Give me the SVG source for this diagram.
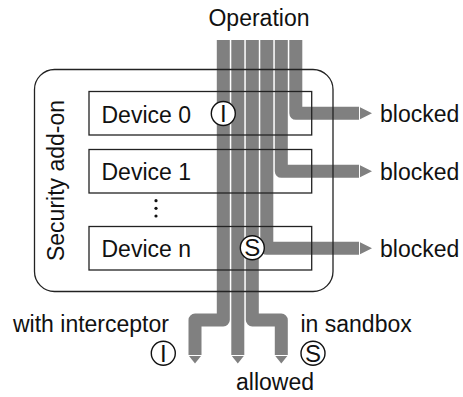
<svg xmlns="http://www.w3.org/2000/svg" width="463" height="397" viewBox="0 0 463 397">
<style>
text{font-family:"Liberation Sans",Arial,sans-serif;font-size:23px;fill:#111}
.band{fill:none;stroke:#808080;stroke-width:13;stroke-linejoin:round}
.head{fill:#808080}
.box{fill:none;stroke:#222;stroke-width:1.3}
.mark{fill:#fff;stroke:#111;stroke-width:1.4}
.ml{font-size:24px;text-anchor:middle}
</style>
<rect width="463" height="397" fill="#fff"/>
<g id="connectors">
<path class="band" d="M223.3,40 V320 H195 V355"/>
<path class="band" d="M237.8,40 V355"/>
<path class="band" d="M252.3,40 V320 H281.3 V355"/>
<path class="band" d="M266.8,40 V248.3 H359"/>
<path class="band" d="M281.3,40 V171.3 H359"/>
<path class="band" d="M295.8,40 V113.3 H359"/>
<polygon class="head" points="189,356 201,356 195,363.5"/>
<polygon class="head" points="231.8,356 243.8,356 237.8,363.5"/>
<polygon class="head" points="275.3,356 287.3,356 281.3,363.5"/>
<polygon class="head" points="360,107.3 360,119.3 372,113.3"/>
<polygon class="head" points="360,165.3 360,177.3 372,171.3"/>
<polygon class="head" points="360,242.3 360,254.3 372,248.3"/>
</g>
<g id="security-addon">
<rect class="box" x="34.5" y="69.5" width="298.5" height="222" rx="20"/>
<text transform="translate(63.5,180.5) rotate(-90)" text-anchor="middle">Security add-on</text>
</g>
<g id="device0">
<rect class="box" x="89" y="91.5" width="222.7" height="43.5"/>
<text x="101.5" y="122.5">Device 0</text>
</g>
<g id="device1">
<rect class="box" x="89" y="149.5" width="222.7" height="43.5"/>
<text x="101.5" y="179.5">Device 1</text>
</g>
<g id="dots" fill="#111">
<circle cx="156" cy="200.7" r="1.6"/>
<circle cx="156" cy="208.3" r="1.6"/>
<circle cx="156" cy="216" r="1.6"/>
</g>
<g id="deviceN">
<rect class="box" x="89" y="226.5" width="222.7" height="43.5"/>
<text x="101.5" y="256.5">Device n</text>
</g>
<g id="interceptor-mark">
<circle class="mark" cx="223.3" cy="113.5" r="12"/>
<text class="ml" x="223.3" y="122">I</text>
</g>
<g id="sandbox-mark">
<circle class="mark" cx="252.3" cy="247.8" r="12"/>
<text class="ml" x="252.3" y="256.3">S</text>
</g>
<g id="labels">
<text x="259" y="25.5" text-anchor="middle">Operation</text>
<text x="380" y="121.5">blocked</text>
<text x="380" y="179.5">blocked</text>
<text x="380" y="256.5">blocked</text>
<text x="13" y="331.5">with interceptor</text>
<text x="300.5" y="331.5">in sandbox</text>
<text x="236" y="390">allowed</text>
</g>
<g id="legend-interceptor">
<circle class="mark" cx="163.3" cy="353.3" r="12"/>
<text class="ml" x="163.3" y="361.8">I</text>
</g>
<g id="legend-sandbox">
<circle class="mark" cx="313" cy="353.3" r="12"/>
<text class="ml" x="313" y="361.8">S</text>
</g>
</svg>
